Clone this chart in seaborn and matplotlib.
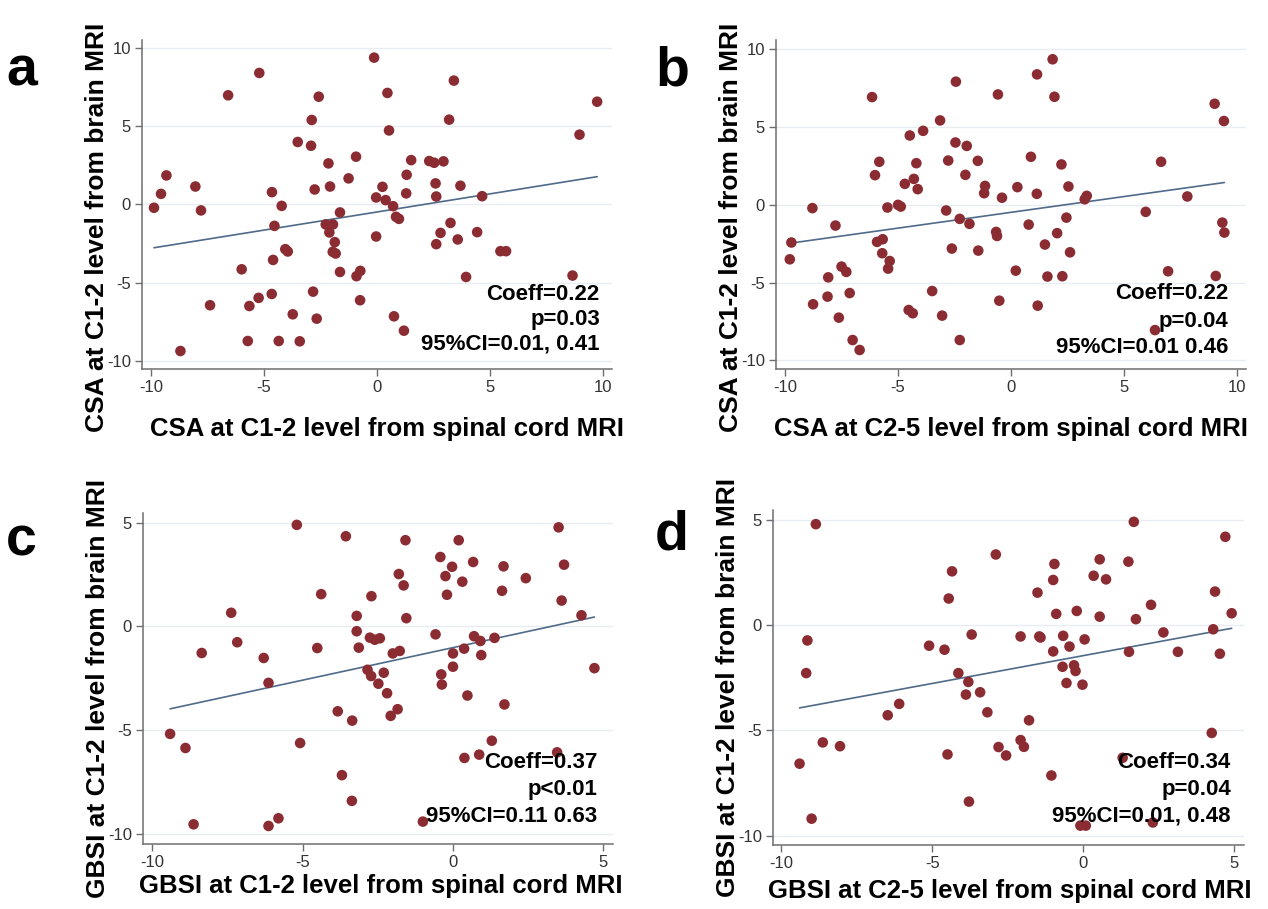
import numpy as np
import pandas as pd
import seaborn as sns
import matplotlib.pyplot as plt

# Panel a: CSA C1-2 (spinal cord MRI) vs CSA C1-2 (brain MRI)
a_x = [-9.87, -9.56, -9.32, -8.04, -7.79, -8.70, -7.39, -6.59, -5.99, -5.65,
       -5.24, -5.21, -5.72, -4.65, -4.22, -4.54, -4.60, -4.66, -4.35, -4.06,
       -3.95, -3.73, -3.51, -3.42, -2.89, -2.92, -2.76, -2.83, -2.67, -2.58,
       -2.15, -2.08, -2.27, -1.95, -2.11, -1.87, -1.96, -1.83, -1.64, -1.64,
       -0.93, -1.26, -0.74, -0.91, -0.75, -0.13, -0.04, 0.24, 0.38, -0.04,
       0.46, 0.53, 0.71, 0.84, 0.97, 0.75, 1.19, 1.31, 1.51, 1.29,
       2.31, 2.53, 2.94, 2.59, 2.62, 3.19, 3.40, 3.69, 3.25, 2.81,
       2.62, 3.57, 3.94, 4.43, 4.65, 5.46, 5.71, 8.65, 8.96, 9.74]
a_y = [-0.21, 0.68, 1.86, 1.15, -0.38, -9.38, -6.45, 6.99, -4.15, -6.50,
       -5.98, 8.42, -8.74, 0.79, -0.09, -1.37, -3.55, -5.73, -8.74, -2.86,
       -3.01, -7.03, 4.00, -8.76, 5.41, 3.76, 0.96, -5.58, -7.31, 6.90,
       2.63, 1.15, -1.28, -1.28, -1.79, -2.41, -3.03, -3.14, -0.51, -4.32,
       3.06, 1.67, -4.25, -4.59, -6.13, 9.40, 0.45, 1.13, 0.28, -2.05,
       7.14, 4.74, -0.11, -0.79, -0.92, -7.16, -8.08, 1.90, 2.84, 0.71,
       2.78, 2.67, 2.76, 1.35, 0.51, 5.43, 7.93, 1.20, -1.18, -1.82,
       -2.54, -2.24, -4.64, -1.77, 0.53, -2.99, -2.99, -4.55, 4.47, 6.58]
fit_a = (-0.48, 0.232)
stats_a = ["Coeff=0.22", "p=0.03", "95%CI=0.01, 0.41"]

# Panel b: CSA C2-5 (spinal cord MRI) vs CSA C1-2 (brain MRI)
b_x = [-9.79, -9.72, -8.79, -8.76, -7.77, -8.09, -8.12, -7.50, -7.29, -7.14,
       -7.62, -7.01, -6.70, -6.15, -6.02, -5.83, -5.93, -5.68, -5.70, -5.37,
       -5.44, -5.47, -5.00, -4.88, -4.70, -4.48, -4.30, -4.19, -4.13, -3.89,
       -4.53, -4.35, -3.49, -3.14, -2.87, -2.78, -2.62, -3.05, -2.46, -2.44,
       -2.27, -2.27,
       -1.96, -2.02, -1.84, -1.47, -1.15, -1.19, -1.45, -0.66, -0.62, -0.58,
       -0.40, -0.52, 0.21, 0.28, 0.78, 0.88, 1.15, 1.14, 1.18, 1.50,
       1.61, 1.84, 1.92, 2.04, 2.23, 2.27, 2.45, 2.54, 2.61, 3.26,
       3.35, 5.96, 6.64, 6.95, 6.37, 7.80, 9.01, 9.42, 9.35, 9.44, 9.06]
b_y = [-3.50, -2.42, -0.21, -6.39, -1.33, -4.66, -5.90, -3.97, -4.31, -5.67,
       -7.25, -8.69, -9.33, 6.93, 1.91, 2.77, -2.38, -2.21, -3.11, -3.61,
       -4.10, -0.17, 0.00, -0.11, 1.35, 4.46, 1.67, 2.68, 1.01, 4.76,
       -6.76, -6.97, -5.54, 5.43, -0.36, 2.85, -2.81, -7.12, 4.01, 7.92,
       -0.90, -8.69,
       3.79, 1.93, -1.22, 2.83, 1.22, 0.75, -2.94, -1.74, -2.00, 7.10,
       0.46, -6.16, -4.23, 1.14, -1.27, 3.09, 8.39, 0.71, -6.48, -2.55,
       -4.61, 9.36, 6.95, -1.82, 2.60, -4.59, -0.82, 1.18, -3.05, 0.36,
       0.58, -0.45, 2.77, -4.27, -8.05, 0.54, 6.50, 5.39, -1.14, -1.78, -4.57]
fit_b = (-0.48, 0.203)
stats_b = ["Coeff=0.22", "p=0.04", "95%CI=0.01 0.46"]

# Panel c: GBSI C1-2 (spinal cord MRI) vs GBSI C1-2 (brain MRI)
c_x = [-9.40, -8.89, -8.35, -8.62, -7.37, -7.17, -6.29, -6.13, -6.13, -5.80,
       -5.19, -5.08, -4.38, -4.51, -3.83, -3.69, -3.56, -3.35, -3.36,
       -3.20, -3.20, -3.13, -2.84, -2.72, -2.76, -2.60, -2.43, -2.71, -2.30,
       -2.48, -2.19, -2.07, -1.84, -2.00, -1.77, -1.80, -1.64, -1.58, -1.55,
       -0.58, -0.42, -0.25, -0.20, -0.03, 0.19, 0.31, 0.67, -0.39, -0.37,
       0.00, 0.00, 0.37, 0.70, 0.91, 0.94, 1.38, 0.48, 1.63, 1.68,
       1.71, 2.42, 1.29, 0.38, 0.87, 3.46, 3.51, 3.69, 3.61, 4.27,
       4.70, -1.00]
c_y = [-5.19, -5.87, -1.29, -9.55, 0.65, -0.77, -1.53, -2.73, -9.63, -9.26,
       4.89, -5.63, 1.55, -1.05, -4.10, -7.18, 4.34, -4.55, -8.42,
       0.50, -0.24, -1.03, -2.10, -2.40, -0.55, -0.65, -0.58, 1.45, -2.24,
       -2.77, -3.23, -4.32, -4.00, -1.31, -1.19, 2.52, 1.97, 4.15, 0.39,
       -0.39, 3.34, 2.42, 1.52, 2.87, 4.15, 2.15, 3.10, -2.32, -2.81,
       -1.31, -1.95, -1.08, -0.48, -0.71, -1.39, -0.56, -3.34, 1.71, 2.89,
       -3.77, 2.32, -5.52, -6.35, -6.19, -6.08, 4.77, 2.97, 1.24, 0.53,
       -2.02, -9.42]
fit_c = (-1.03, 0.314)
stats_c = ["Coeff=0.37", "p<0.01", "95%CI=0.11 0.63"]

# Panel d: GBSI C2-5 (spinal cord MRI) vs GBSI C1-2 (brain MRI)
d_x = [-9.40, -9.14, -9.18, -8.86, -9.00, -8.63, -8.06, -6.48, -6.10, -5.11,
       -4.60, -4.50, -4.35, -4.46, -4.14,
       -3.70, -3.81, -3.89, -3.42, -3.18, -2.90, -2.81, -2.56, -2.08, -1.80,
       -2.08, -1.97, -1.52, -1.46, -1.42, -1.06, -0.96, -1.00, -0.90, -1.00,
       -0.67, -0.46, -0.69, -0.31, -0.26, -0.56, -0.03, 0.04, -0.22, 0.34,
       0.54, 0.75, 0.54, 1.49, 1.67, 1.51, 1.74, 1.30, 2.24, 2.65,
       3.13, 4.25, 4.30, 4.36, 4.52, 4.70, 4.91,
       -3.79, -0.10, 0.08, 2.30]
d_y = [-6.59, -0.74, -2.29, 4.78, -9.20, -5.58, -5.76, -4.29, -3.75, -0.99,
       -1.18, -6.15, 2.54, 1.25, -2.29,
       -0.46, -2.71, -3.31, -3.20, -4.15, 3.34, -5.80, -6.20, -0.55, -4.53,
       -5.47, -5.79, 1.53, -0.55, -0.60, -7.15, 2.89, 2.13, 0.52, -1.26,
       -0.52, -1.03, -1.99, -1.92, -2.19, -2.76, -2.84, -0.69, 0.66, 2.33,
       3.11, 2.16, 0.39, 3.00, 4.89, -1.28, 0.27, -6.31, 0.95, -0.36,
       -1.28, -5.13, -0.21, 1.58, -1.37, 4.18, 0.55,
       -8.39, -9.53, -9.53, -9.38]
fit_d = (-1.46, 0.264)
stats_d = ["Coeff=0.34", "p=0.04", "95%CI=0.01, 0.48"]

DOT = "#8b2c33"
LINE = "#4f6b89"
AXC = "#6e6e6e"

sns.set_style("white")
plt.rcParams["font.family"] = ["Liberation Sans", "DejaVu Sans"]
plt.rcParams["axes.unicode_minus"] = False

fig = plt.figure(figsize=(12.68, 9.09), dpi=100)


def panel(rect, x, y, fit, stats, xlabel, ylabel, xlim, ylim, xticks, ylab_y, xlab_pos, txt):
    ax = fig.add_axes(rect)
    df = pd.DataFrame({"x": x, "y": y})
    ax.yaxis.grid(True, color="#e9edf1", lw=1.0)
    ax.set_axisbelow(True)
    sns.scatterplot(data=df, x="x", y="y", ax=ax, color=DOT, s=58,
                    edgecolor="none", zorder=3)
    xs = np.array([df.x.min(), df.x.max()])
    sns.lineplot(x=xs, y=fit[0] + fit[1] * xs, ax=ax, color=LINE, lw=1.2, zorder=2)
    ax.set_xlim(*xlim)
    ax.set_ylim(*ylim)
    ax.set_xticks(xticks)
    ax.set_yticks([-10, -5, 0, 5, 10] if ylim[1] > 6 else [-10, -5, 0, 5])
    sns.despine(ax=ax)
    for s in ("left", "bottom"):
        ax.spines[s].set_color(AXC)
        ax.spines[s].set_linewidth(1.1)
    ax.tick_params(direction="out", length=5, width=1, color=AXC,
                   labelsize=12, labelcolor="#333333", pad=3,
                   left=True, bottom=True)
    ax.set_xlabel(xlabel, fontsize=18.5, fontweight="bold", color="black")
    ax.set_ylabel(ylabel, fontsize=19, fontweight="bold", color="black")
    ax.xaxis.set_label_coords(xlab_pos[0], xlab_pos[1])
    ax.yaxis.set_label_coords(-0.07, ylab_y)
    tx, tys = txt
    for s, ty in zip(stats, tys):
        ax.text(tx, ty, s, transform=ax.transAxes, ha="right", va="baseline",
                fontsize=16, fontweight="bold", color="black", zorder=5)
    return ax


panel([0.1120, 0.5941, 0.3707, 0.3619], a_x, a_y, fit_a, stats_a,
      "CSA at C1-2 level from spinal cord MRI", "CSA at C1-2 level from brain MRI",
      (-10.4, 10.4), (-10.53, 10.53), [-10, -5, 0, 5, 10], 0.43, (0.52, -0.145),
      (0.974, [0.210, 0.134, 0.058]))
panel([0.6120, 0.5941, 0.3707, 0.3619], b_x, b_y, fit_b, stats_b,
      "CSA at C2-5 level from spinal cord MRI", "CSA at C1-2 level from brain MRI",
      (-10.4, 10.4), (-10.55, 10.6), [-10, -5, 0, 5, 10], 0.43, (0.50, -0.145),
      (0.962, [0.213, 0.128, 0.049]))
panel([0.1128, 0.0715, 0.3707, 0.3641], c_x, c_y, fit_c, stats_c,
      "GBSI at C1-2 level from spinal cord MRI", "GBSI at C1-2 level from brain MRI",
      (-10.3, 5.32), (-10.5, 5.46), [-10, -5, 0, 5], 0.47, (0.506, -0.09),
      (0.966, [0.229, 0.147, 0.065]))
panel([0.6096, 0.0704, 0.3715, 0.3685], d_x, d_y, fit_d, stats_d,
      "GBSI at C2-5 level from spinal cord MRI", "GBSI at C1-2 level from brain MRI",
      (-10.28, 5.32), (-10.45, 5.45), [-10, -5, 0, 5], 0.47, (0.503, -0.10),
      (0.972, [0.230, 0.149, 0.069]))

for letter, px, py in [("a", 6, 86), ("b", 655, 86), ("c", 6, 556), ("d", 655, 550)]:
    fig.text(px / 1268, 1 - py / 909, letter, fontsize=40, fontweight="bold",
             color="black", ha="left", va="baseline")

fig.savefig("out.png", dpi=100)
